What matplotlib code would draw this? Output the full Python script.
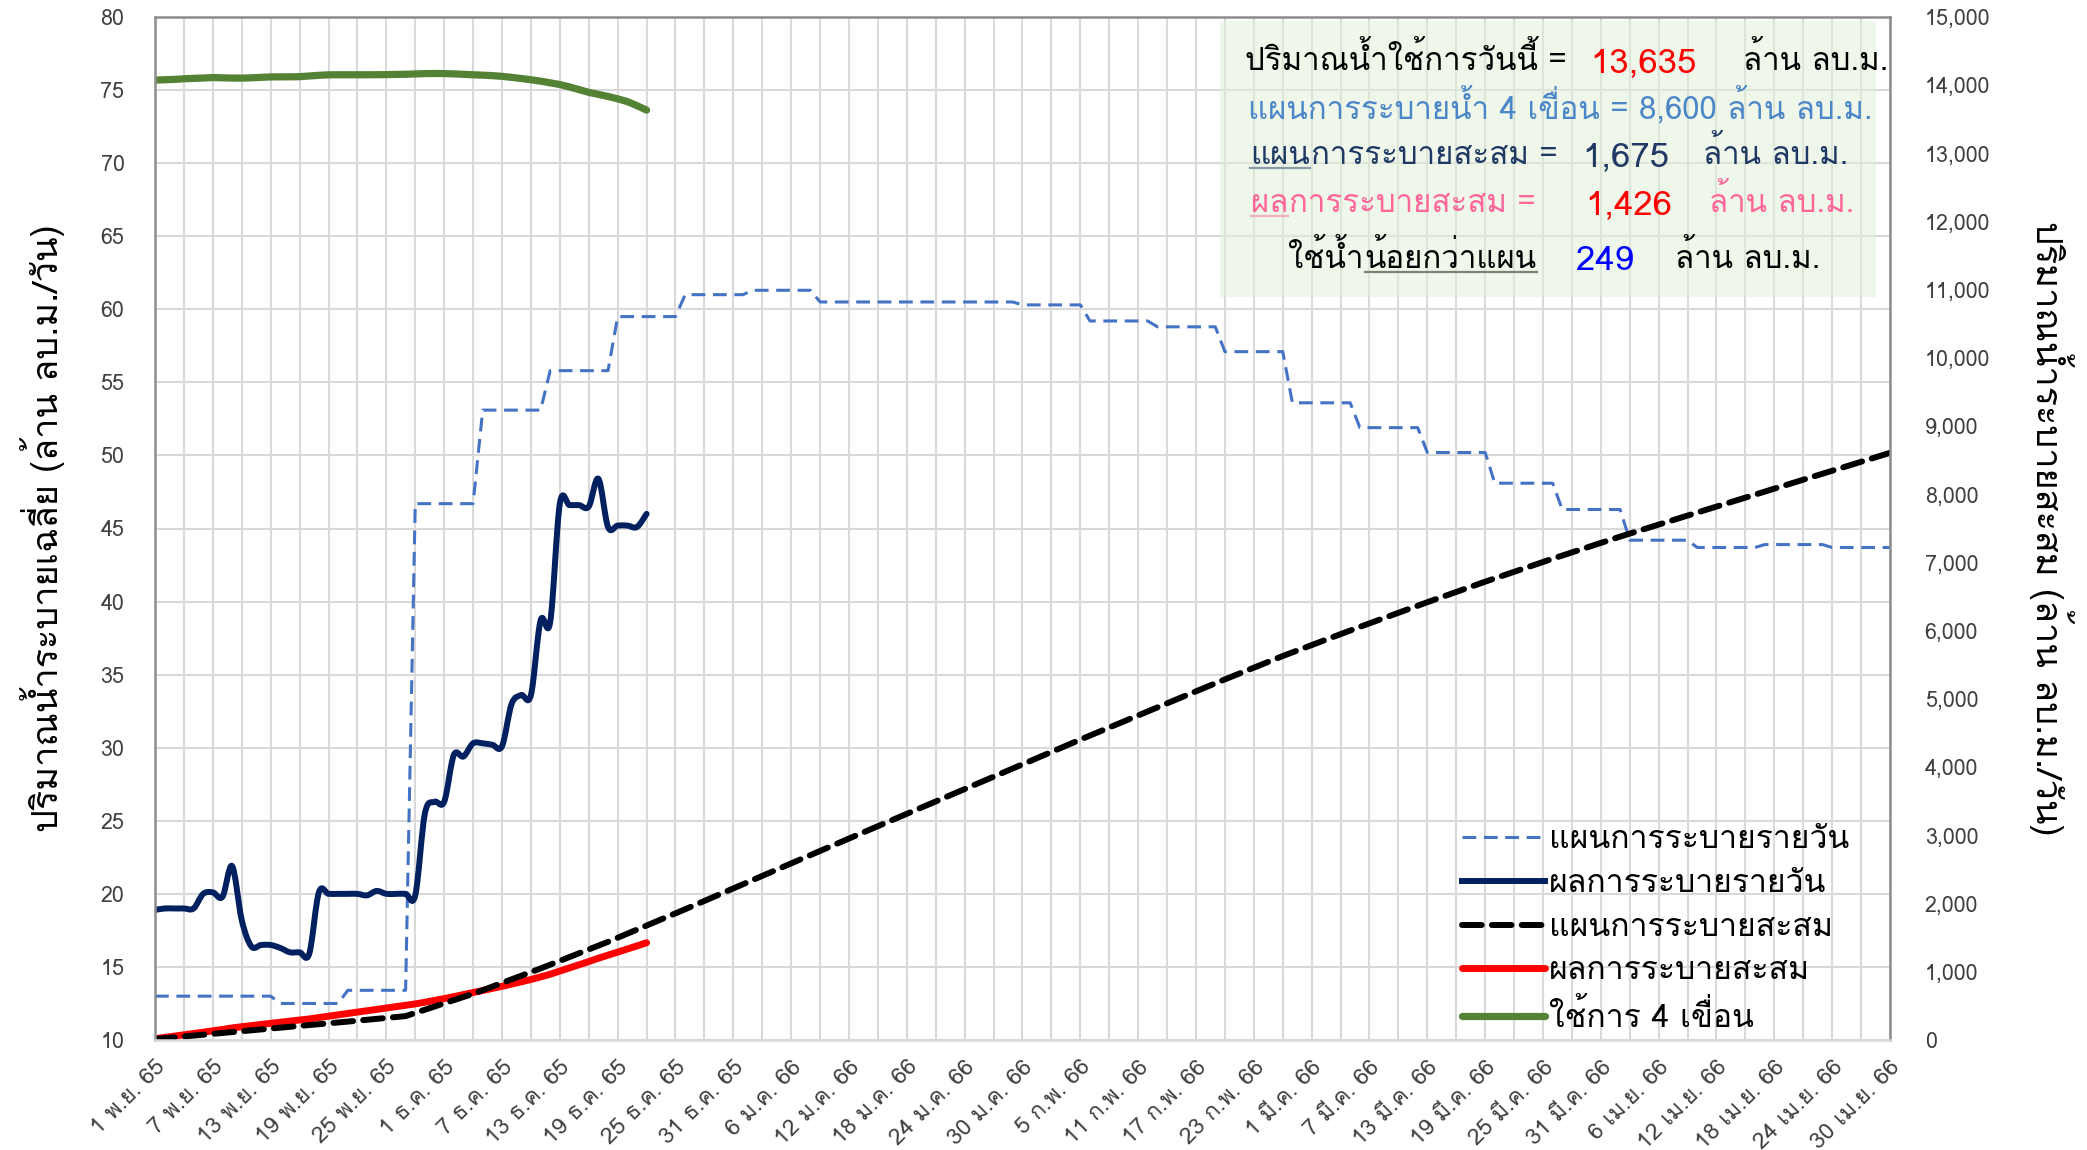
import numpy as np
import matplotlib
matplotlib.use("Agg")
from matplotlib import pyplot as plt
from matplotlib import font_manager as fm
from matplotlib.ft2font import FT2Font
from matplotlib.lines import Line2D
from matplotlib.patches import Rectangle, PathPatch
from matplotlib.path import Path
from matplotlib.ticker import FuncFormatter


# x axis: day index, 0 = 1 พ.ย. 65 ... 180 = 30 เม.ย. 66
tick_labels = ['1 พ.ย. 65', '7 พ.ย. 65', '13 พ.ย. 65', '19 พ.ย. 65', '25 พ.ย. 65',
               '1 ธ.ค. 65', '7 ธ.ค. 65', '13 ธ.ค. 65', '19 ธ.ค. 65', '25 ธ.ค. 65',
               '31 ธ.ค. 65', '6 ม.ค. 66', '12 ม.ค. 66', '18 ม.ค. 66', '24 ม.ค. 66',
               '30 ม.ค. 66', '5 ก.พ. 66', '11 ก.พ. 66', '17 ก.พ. 66', '23 ก.พ. 66',
               '1 มี.ค. 66', '7 มี.ค. 66', '13 มี.ค. 66', '19 มี.ค. 66', '25 มี.ค. 66',
               '31 มี.ค. 66', '6 เม.ย. 66', '12 เม.ย. 66', '18 เม.ย. 66', '24 เม.ย. 66',
               '30 เม.ย. 66']

# daily release plan (ล้าน ลบ.ม./วัน): value of each step and how many days it lasts
plan_values = [13.0, 12.5, 13.4, 46.7, 53.1, 55.8, 59.5, 61.0, 61.3, 60.5, 60.3, 59.2,
               58.8, 57.1, 53.6, 51.9, 50.2, 48.1, 46.3, 44.2, 43.7, 43.9, 43.7]
plan_days = [13, 7, 7, 7, 7, 7, 7, 7, 7, 21, 7, 7, 7, 7, 7, 7, 7, 7, 7, 7, 7, 7, 7]

# actual daily release, 1 พ.ย. - 22 ธ.ค. 65
actual_daily = [18.9, 19.0, 19.0, 19.0, 19.0, 20.0, 20.1, 19.8, 21.9, 18.2, 16.4, 16.5,
                16.5, 16.3, 16.0, 16.0, 15.9, 20.1, 20.0, 20.0, 20.0, 20.0, 19.9, 20.2,
                20.0, 20.0, 20.0, 19.9, 25.5, 26.3, 26.3, 29.5, 29.4, 30.3, 30.3, 30.2,
                30.1, 33.0, 33.6, 33.6, 38.7, 38.6, 46.7, 46.6, 46.6, 46.5, 48.4, 45.1,
                45.2, 45.2, 45.1, 46.0]

# actual cumulative release (ล้าน ลบ.ม.)
actual_cum = [19, 38, 57, 76, 95, 115, 135, 155, 177, 195, 211, 228, 244, 261, 277, 293,
              309, 329, 349, 369, 389, 409, 429, 449, 469, 489, 509, 529, 554, 580, 607,
              636, 666, 696, 726, 756, 787, 820, 853, 887, 925, 964, 1011, 1057, 1104,
              1150, 1199, 1244, 1289, 1334, 1379, 1426]

# usable storage of the 4 dams (ล้าน ลบ.ม.)
usage_4dams = [14075, 14080, 14085, 14094, 14100, 14105, 14112, 14108, 14105, 14104,
               14108, 14115, 14122, 14122, 14123, 14125, 14135, 14145, 14152, 14153,
               14153, 14153, 14153, 14154, 14155, 14158, 14160, 14165, 14170, 14172,
               14170, 14166, 14160, 14153, 14147, 14140, 14130, 14115, 14098, 14080,
               14060, 14035, 14010, 13975, 13935, 13895, 13865, 13835, 13800, 13760,
               13700, 13635]

series_labels = ['แผนการระบายรายวัน', 'ผลการระบายรายวัน', 'แผนการระบายสะสม',
                 'ผลการระบายสะสม', 'ใช้การ 4 เขื่อน']


def thai_family():
    prefer = ['Tahoma', 'Loma', 'Waree', 'Noto Sans Thai Looped', 'Garuda',
              'Tlwg Typo', 'Noto Sans Thai', 'Sarabun']
    found = []
    for f in fm.fontManager.ttflist:
        try:
            cmap = FT2Font(f.fname).get_charmap()
        except Exception:
            continue
        if 0x0E01 in cmap and 0x0E49 in cmap and f.style == 'normal':
            found.append(f.name)
    if not found:
        return None
    for p in prefer:
        if p in found:
            return p
    return found[0]


def smooth_path(x, y):
    # excel-like smoothed line: cubic bezier through every point
    x = np.asarray(x, float)
    y = np.asarray(y, float)
    pts = np.column_stack([x, y])
    verts = [pts[0]]
    codes = [Path.MOVETO]
    for i in range(len(pts) - 1):
        p0 = pts[max(i - 1, 0)]
        p1 = pts[i]
        p2 = pts[i + 1]
        p3 = pts[min(i + 2, len(pts) - 1)]
        verts += [p1 + (p2 - p0) / 6, p2 - (p3 - p1) / 6, p2]
        codes += [Path.CURVE4] * 3
    return Path(verts, codes)


thai = thai_family()
fams = [thai, 'DejaVu Sans'] if thai else ['DejaVu Sans']
plt.rcParams['font.family'] = fams

plan_daily = np.repeat(plan_values, plan_days)
plan_cum = np.cumsum(plan_daily)  # cumulative plan = running total of the daily plan
days = np.arange(len(plan_daily))
n = len(actual_daily)

W, H = 2087, 1150
fig = plt.figure(figsize=(W / 100, H / 100), dpi=100)
ax = fig.add_axes([155 / W, 1 - 1040 / H, (1890 - 155) / W, (1040 - 17) / H])
ax2 = ax.twinx()

grid_c = '#D9D9D9'
navy = '#002060'
l1, = ax.plot(days, plan_daily, color='#4472C4', lw=2.2, ls=(0, (4.5, 2.5)))
ax.add_patch(PathPatch(smooth_path(days[:n], actual_daily), fill=False, edgecolor=navy,
                       lw=4.3, capstyle='round', joinstyle='round', zorder=2.5))
l2 = Line2D([], [], color=navy, lw=4.3)
l4, = ax2.plot(days[:n], actual_cum, color='#FF0000', lw=5, solid_capstyle='round')
l3, = ax2.plot(days, plan_cum, color='black', lw=4.3, ls=(0, (3.3, 1.7)),
               dash_capstyle='round')
l5, = ax2.plot(days[:n], usage_4dams, color='#548235', lw=5.2,
               solid_capstyle='round', solid_joinstyle='round')

ax.set_xlim(0, 180)
ax.set_ylim(10, 80)
ax.set_yticks(range(10, 81, 5))
ax2.set_ylim(0, 15000)
ax2.set_yticks(range(0, 15001, 1000))
ax2.yaxis.set_major_formatter(FuncFormatter(lambda v, p: f'{int(v):,}'))

ax.set_xticks(range(0, 181, 6))
ax.set_xticks(range(0, 181, 3), minor=True)
ax.set_xticklabels(tick_labels, rotation=45, ha='right', va='top',
                   rotation_mode='anchor')
ax.set_axisbelow(True)
ax.grid(True, which='both', axis='x', color=grid_c, lw=1.5)
ax.grid(True, which='major', axis='y', color=grid_c, lw=1.5)

for a in (ax, ax2):
    a.tick_params(axis='both', which='both', length=0, labelcolor='#404040',
                  labelsize=15.5)
ax.tick_params(axis='y', pad=22)
ax2.tick_params(axis='y', pad=25)
ax.tick_params(axis='x', pad=12, labelsize=16.5)

for s in ax.spines.values():
    s.set_visible(False)
for k, s in ax2.spines.items():
    s.set_color(grid_c if k == 'bottom' else '#8C8C8C')
    s.set_linewidth(1.8)

ax.set_ylabel('ปริมาณน้ำระบายเฉลี่ย (ล้าน ลบ.ม./วัน)', fontsize=26, color='black')
ax.yaxis.set_label_coords(-0.052, 0.5)
ax2.set_ylabel('ปริมาณน้ำระบายสะสม (ล้าน ลบ.ม./วัน)', fontsize=26, color='black',
               rotation=270)
ax2.yaxis.set_label_coords(1.106, 0.5)

ax2.legend([l1, l2, l3, l4, l5], series_labels, loc='lower right',
           bbox_to_anchor=(1862 / W, 1 - 1047 / H), bbox_transform=fig.transFigure,
           frameon=False, fontsize=23, handlelength=2.6, handletextpad=0.12,
           labelspacing=0.43, borderaxespad=0)

# summary box
fig.patches.append(Rectangle((1220 / W, 1 - 297 / H), 656 / W, 276 / H,
                             transform=fig.transFigure, facecolor='#E2F0D9',
                             alpha=0.55, edgecolor='none', zorder=3))

renderer = fig.canvas.get_renderer()


def put(x, y, s, color, size, underline=False):
    t = fig.text(x / W, 1 - y / H, s, color=color, fontsize=size, ha='left',
                 va='baseline', zorder=5)
    bb = t.get_window_extent(renderer)
    if underline:
        yy = 1 - (y + 4) / H
        fig.add_artist(Line2D([bb.x0 / W, bb.x1 / W], [yy, yy], color=color, lw=1.6,
                              transform=fig.transFigure))
    return bb.x1


txt = 22.5
num = 25
put(1245, 70, 'ปริมาณน้ำใช้การวันนี้ =', 'black', txt)
put(1590, 72, '13,635', '#FF0000', num)
put(1743, 70, 'ล้าน ลบ.ม.', 'black', txt)

put(1248, 118, 'แผนการระบายน้ำ 4 เขื่อน = 8,600 ล้าน ลบ.ม.', '#4A86C8', txt)

x = put(1250, 164, 'แผน', '#1F3864', txt, underline=True)
put(x + 1, 164, 'การระบายสะสม =', '#1F3864', txt)
put(1582, 166, '1,675', '#1F3864', num)
put(1703, 164, 'ล้าน ลบ.ม.', '#1F3864', txt)

x = put(1251, 212, 'ผล', '#FF6699', txt, underline=True)
put(x + 1, 212, 'การระบายสะสม =', '#FF6699', txt)
put(1585, 214, '1,426', '#FF0000', num)
put(1709, 212, 'ล้าน ลบ.ม.', '#FF6699', txt)

x = put(1288, 268, 'ใช้น้ำ', 'black', txt)
put(x + 1, 268, 'น้อยกว่าแผน', 'black', txt, underline=True)
put(1576, 270, '249', '#0000FF', num)
put(1675, 268, 'ล้าน ลบ.ม.', 'black', txt)

fig.savefig('out.png', dpi=100)
